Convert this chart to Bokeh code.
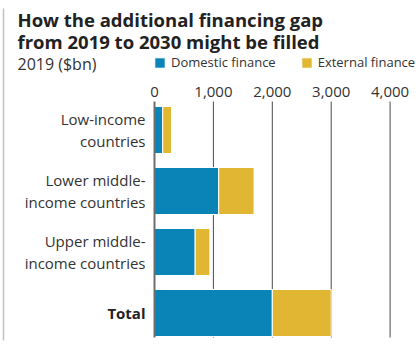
from bokeh.plotting import figure
from bokeh.models import Range1d, Label, BoxAnnotation, Legend, LegendItem
from bokeh.core.properties import value
from bokeh.embed import file_html
from bokeh.resources import INLINE

categories = ["Low-income\ncountries", "Lower middle-\nincome countries",
              "Upper middle-\nincome countries", "Total"]
domestic = [140, 1090, 690, 2000]
external = [150, 600, 250, 1000]
x_ticks = [0, 1000, 2000, 3000, 4000]
x_tick_labels = ["0", "1,000", "2,000", "3,000", "4,000"]

title_lines = ["How the additional financing gap", "from 2019 to 2030 might be filled"]
subtitle = "2019 ($bn)"
series_names = ["Domestic finance", "External finance"]
colors = ["#0a83b6", "#e0b632"]

FONT = "Open Sans"
W, H = 419, 351

# pixel geometry of the plotting area (frame covers the whole canvas)
X0_PX, PX_PER_UNIT_X = 154.0, 58.9 / 1000.0
Y0_PX, PX_PER_CAT = 129.5, 61.0
x_range = Range1d(-X0_PX / PX_PER_UNIT_X, (W - X0_PX) / PX_PER_UNIT_X)
y_range = Range1d((H - Y0_PX) / PX_PER_CAT, -Y0_PX / PX_PER_CAT)

def ydata(px):
    return (px - Y0_PX) / PX_PER_CAT

ypos = list(range(len(categories)))
ext_right = [d + e for d, e in zip(domestic, external)]

p = figure(width=W, height=H, output_backend="svg", toolbar_location=None,
           x_range=x_range, y_range=y_range,
           x_axis_location=None, y_axis_location=None,
           min_border=0)
p.outline_line_color = None
p.xgrid.grid_line_color = None
p.ygrid.grid_line_color = None

# grid lines at the x ticks
grid_top, grid_bot = ydata(101), ydata(337)
p.segment(x0=x_ticks[1:], x1=x_ticks[1:], y0=[grid_top] * 4, y1=[grid_bot] * 4,
          line_color="#4a4a4a", line_width=1)

# tick labels
p.text(x=x_ticks, y=[ydata(91.5)] * len(x_ticks), text=x_tick_labels,
       text_align="center", text_baseline="middle",
       text_font=value(FONT), text_font_size="15px", text_color="#333333")

r_dom = p.hbar(y=ypos, left=0, right=domestic, height=0.77, fill_color=colors[0],
               line_color="white", line_width=1)
r_ext = p.hbar(y=ypos, left=domestic, right=ext_right, height=0.77, fill_color=colors[1],
               line_color="white", line_width=1)

p.segment(x0=[0], x1=[0], y0=[grid_top], y1=[grid_bot], line_color="#6e6e6e", line_width=2)

# category labels
normal = [c for c in categories if c != "Total"]
p.text(x=[0] * len(normal), y=[categories.index(c) for c in normal], text=normal,
       x_offset=-9, text_align="right", text_baseline="middle",
       text_font=value(FONT), text_font_size="15px", text_color="#333333",
       text_line_height=1.08)
p.text(x=[0], y=[categories.index("Total")], text=["Total"],
       x_offset=-9, text_align="right", text_baseline="middle",
       text_font=value(FONT), text_font_size="15px", text_color="#222222",
       text_font_style="bold")

# title / subtitle (screen units from bottom-left)
for j, t in enumerate(title_lines):
    p.add_layout(Label(x=17, y=H - 19 - 22 * j, x_units="screen", y_units="screen",
                       text=t, text_font=FONT, text_font_size="18.5px",
                       text_font_style="bold", text_color="#222222",
                       text_baseline="alphabetic"))
p.add_layout(Label(x=17, y=H - 63, x_units="screen", y_units="screen",
                   text=subtitle, text_font=FONT, text_font_size="16px",
                   text_color="#333333", text_baseline="alphabetic"))

legend = Legend(items=[LegendItem(label=series_names[0], renderers=[r_dom]),
                       LegendItem(label=series_names[1], renderers=[r_ext])],
                orientation="horizontal", location=(153, H - 71),
                glyph_width=13, glyph_height=13, label_height=13,
                label_standoff=5, spacing=24, padding=0, margin=0,
                border_line_color=None, background_fill_alpha=0,
                label_text_font=FONT, label_text_font_size="13px",
                label_text_color="#333333")
p.add_layout(legend)

# dotted rule on the left edge
p.add_layout(BoxAnnotation(left=3, right=3, top=H - 8, bottom=H - 340,
                           left_units="screen", right_units="screen",
                           top_units="screen", bottom_units="screen",
                           fill_alpha=0, line_color="#333333", line_width=1.5,
                           line_dash="1 1"))

open("out.html", "w").write(file_html(p, INLINE))
